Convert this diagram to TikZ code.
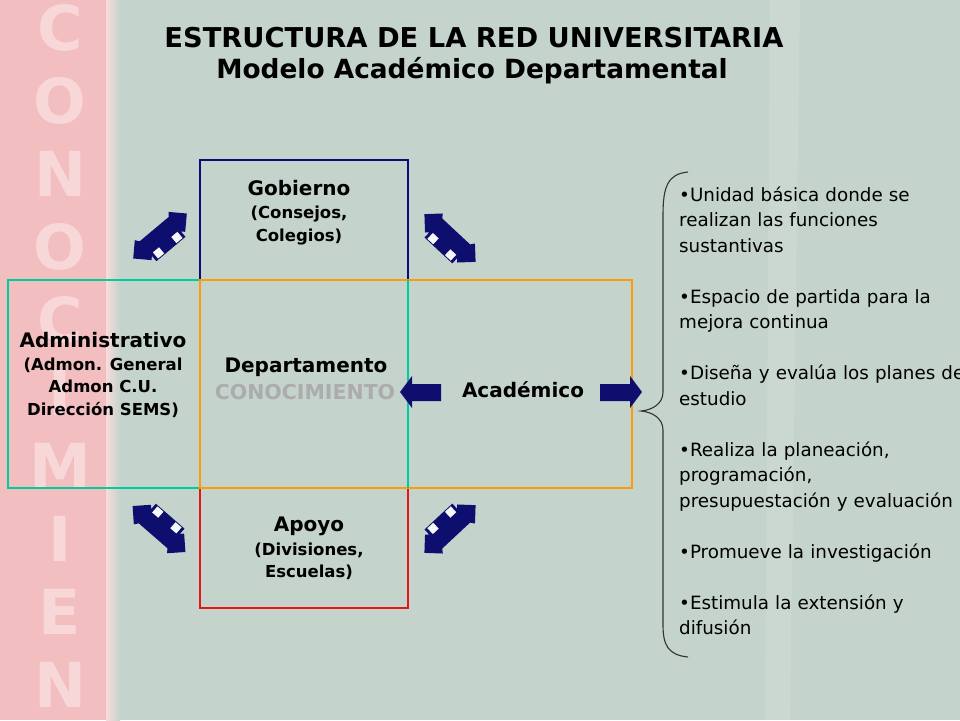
\documentclass[tikz,border=0pt]{standalone}
\usepackage{fontspec}
\setmainfont{DejaVu Sans}
\newfontfamily\listfont{DejaVu Sans}
\definecolor{slide}{RGB}{196,211,203}
\definecolor{pinkbg}{RGB}{242,190,192}
\definecolor{stripletter}{RGB}{248,215,217}
\definecolor{gobcol}{RGB}{12,12,120}
\definecolor{admcol}{RGB}{0,204,153}
\definecolor{depcol}{RGB}{252,156,10}
\definecolor{apocol}{RGB}{230,20,20}
\definecolor{arrownavy}{RGB}{14,14,110}
\definecolor{ghost}{RGB}{172,172,172}
\tikzset{
  frame/.style={line width=2.6pt},
  titletext/.style={font=\bfseries\fontsize{27.3}{32}\selectfont, anchor=base, inner sep=0pt},
  hdtext/.style={font=\bfseries\fontsize{20}{24}\selectfont, anchor=base, inner sep=0pt},
  subtext/.style={font=\bfseries\fontsize{16.5}{19}\selectfont, anchor=base, inner sep=0pt},
  striptext/.style={font=\bfseries\fontsize{62}{70}\selectfont, text=stripletter, inner sep=0pt},
  duo/.pic={
    \fill[arrownavy] (-35,0) -- (-22,-13) -- (-19,-9) -- (19,-9) -- (22,-13) -- (35,0) -- (22,13) -- (19,10)
      -- (19,17) -- (-19,17) -- (-19,10) -- (-22,13) -- cycle;
    \fill[white!85!slide] (8,8) rectangle (16,16);
    \fill[white!85!slide] (-16,8) rectangle (-8,16);
  }
}
\begin{document}
\begin{tikzpicture}[x=1pt,y=-1pt]
            \useasboundingbox (0,0) rectangle (960,720);
            \fill[slide] (0,0) rectangle (960,720);
            \fill[white,opacity=0.12] (770,0) -- (800,0) -- (790,720) -- (765,720) -- cycle;
            \fill[pinkbg] (0,0) rectangle (106,720);
            \shade[left color=pinkbg!55!white, right color=slide] (106,0) rectangle (120,720);
            \node[striptext] (s0) at (60,28) {C};
            \node[striptext] (s1) at (60,101) {O};
            \node[striptext] (s2) at (60,174) {N};
            \node[striptext] (s3) at (60,247) {O};
            \node[striptext] (s4) at (60,320) {C};
            \node[striptext] (s5) at (60,393) {I};
            \node[striptext] (s6) at (60,466) {M};
            \node[striptext] (s7) at (60,539) {I};
            \node[striptext] (s8) at (60,612) {E};
            \node[striptext] (s9) at (60,685) {N};
            \node[titletext] (t0) at (474,47) {ESTRUCTURA DE LA RED UNIVERSITARIA};
            \node[titletext, font=\bfseries\fontsize{26.4}{32}\selectfont] (t1) at (472,78) {Modelo Académico Departamental};
            \draw[frame, gobcol] (200,280) -- (200,160) -- (408,160) -- (408,280);
            \draw[frame, apocol] (200,488) -- (200,608) -- (408,608) -- (408,488);
            \draw[frame, admcol] (8,280) rectangle (408,488);
            \draw[frame, depcol] (200,280) rectangle (632,488);
            \draw[frame, admcol] (408,280) -- (408,488);
            \node[hdtext] (g0) at (299,195) {Gobierno};
            \node[subtext] (g1) at (299,218) {(Consejos,};
            \node[subtext] (g2) at (299,241) {Colegios)};
            \node[hdtext] (a0) at (103,347) {Administrativo};
            \node[subtext] (a1) at (103,370) {(Admon. General};
            \node[subtext] (a2) at (103,392) {Admon C.U.};
            \node[subtext] (a3) at (103,415) {Dirección SEMS)};
            \node[hdtext, font=\bfseries\fontsize{20}{24}\selectfont] (d0) at (306,372) {Departamento};
            \node[hdtext, font=\bfseries\fontsize{20.5}{24}\selectfont, text=ghost] (d1) at (305,399) {CONOCIMIENTO};
            \node[hdtext] (c0) at (523,397) {Académico};
            \node[hdtext] (p0) at (309,531) {Apoyo};
            \node[subtext] (p1) at (309,555) {(Divisiones,};
            \node[subtext] (p2) at (309,577) {Escuelas)};
            \fill[arrownavy] (400,392) -- (412,376) -- (412,384) -- (441,384) -- (441,401) -- (412,401) -- (412,408) -- cycle;
            \fill[arrownavy] (642,392) -- (630,376) -- (630,384) -- (600,384) -- (600,401) -- (630,401) -- (630,408) -- cycle;
            \pic[rotate=40] at (160,236) {duo};
            \pic[rotate=-43] at (450,238) {duo};
            \pic[rotate=139] at (159,529) {duo};
            \pic[rotate=-137] at (450,529) {duo};
            \draw[line width=1.1pt, black!80] (688,172) .. controls (668,174) and (663,186) .. (663,215) -- (663,392)
              .. controls (663,404) and (652,410) .. (641,411) .. controls (652,412) and (663,418) .. (663,430)
              -- (663,625) .. controls (663,645) and (668,655) .. (688,657);
            \node[anchor=north west, inner sep=0pt, text width=330pt, align=left,
              font=\listfont\fontsize{18.3}{25.5}\selectfont] (l0) at (679,186.5) {%
              •Unidad básica donde se\\
              realizan las funciones\\
              sustantivas\\[25.5pt]
              •Espacio de partida para la\\
              mejora continua\\[25.5pt]
              •Diseña y evalúa los planes de\\
              estudio\\[25.5pt]
              •Realiza la planeación,\\
              programación,\\
              presupuestación y evaluación\\[25.5pt]
              •Promueve la investigación\\[25.5pt]
              •Estimula la extensión y\\
              difusión};
            \end{tikzpicture}
\end{document}
